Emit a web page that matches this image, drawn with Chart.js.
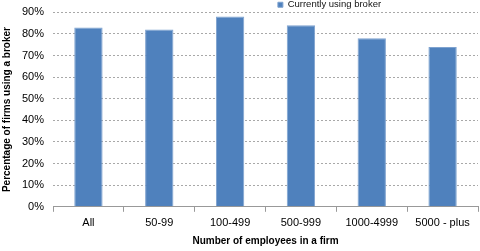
<!DOCTYPE html>
<html>
<head>
<meta charset="utf-8">
<script src="https://cdn.jsdelivr.net/npm/chart.js@4.4.1/dist/chart.umd.min.js"></script>
<style>
html,body{margin:0;padding:0;background:#fff;}
canvas{display:block;}
</style>
</head>
<body>
<canvas id="c" width="480" height="251"></canvas>
<script>
const categories = ["All", "50-99", "100-499", "500-999", "1000-4999", "5000 - plus"];
const seriesName = "Currently using broker";
const usingBroker = [83, 82, 88, 84, 78, 74];
const yMax = 90;
const yStep = 10;

const legendShift = {
  id: 'legendShift',
  afterLayout(chart) {
    const lg = chart.legend;
    if (!lg) return;
    const dx = 90;
    lg.left += dx; lg.right += dx;
  }
};

const FONT = 'Liberation Sans, Arial, sans-serif';

new Chart(document.getElementById('c'), {
  type: 'bar',
  data: {
    labels: categories,
    datasets: [{
      label: seriesName,
      data: usingBroker,
      backgroundColor: '#4F81BD',
      borderColor: '#7EA2CF',
      borderWidth: 1,
      categoryPercentage: 1,
      barPercentage: 0.4
    }]
  },
  plugins: [legendShift],
  options: {
    responsive: false,
    animation: false,
    layout: { padding: { left: 1, right: 2, top: 0, bottom: 4 } },
    plugins: {
      tooltip: { enabled: false },
      legend: {
        position: 'top',
        align: 'center',
        maxHeight: 12.3,
        labels: {
          boxWidth: 5, boxHeight: 5, padding: 0,
          color: '#111',
          font: { family: FONT, size: 9.5 }
        }
      }
    },
    scales: {
      x: {
        grid: { offset: true, drawOnChartArea: false, color: '#999', tickLength: 5 },
        border: { display: true, color: '#999' },
        ticks: { color: '#000', padding: 5, font: { family: FONT, size: 11 } },
        title: {
          display: true, text: 'Number of employees in a firm', color: '#000',
          font: { family: FONT, size: 10, weight: 'bold' },
          padding: { top: 0, bottom: 0 }
        }
      },
      y: {
        min: 0, max: yMax,
        afterFit(scale) { scale.paddingTop = 7; scale.paddingBottom = 7; },
        grid: { color: '#a8a8a8', drawTicks: false, borderDash: [2, 2] },
        border: { display: false, dash: [2, 2] },
        ticks: {
          stepSize: yStep, padding: 9, color: '#000',
          font: { family: FONT, size: 11 },
          callback: v => v + '%'
        },
        title: {
          display: true, text: 'Percentage of firms using a broker', color: '#000',
          font: { family: FONT, size: 10, weight: 'bold' },
          padding: { top: 0, bottom: 0 }
        }
      }
    }
  }
});
</script>
</body>
</html>
